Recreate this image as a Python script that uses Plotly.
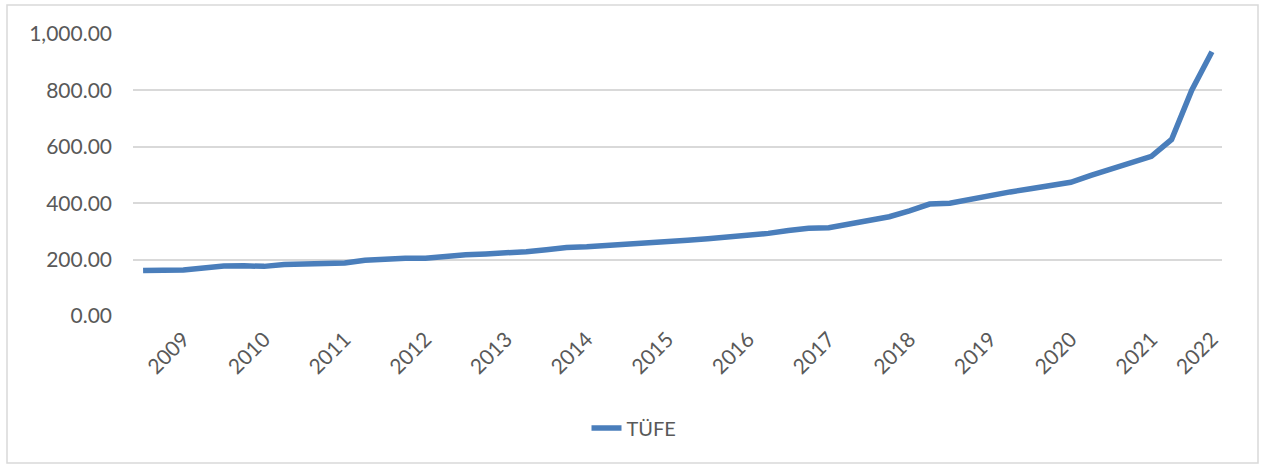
import plotly.graph_objects as go

# Quarterly TÜFE index values
tufe = [161, 162, 163, 170, 177, 178, 176, 183, 184, 188,
        188, 198, 203, 205, 205, 212, 217, 220, 222, 228,
        235, 243, 246, 250, 254, 260, 261, 269, 274, 279,
        285, 293, 303, 311, 313, 325, 337, 352, 373, 397,
        400, 414, 427, 440, 451, 462, 474, 499, 523, 546,
        566, 626, 801, 937]
period_index = list(range(len(tufe)))

year_labels = ["2009", "2010", "2011", "2012", "2013", "2014", "2015",
               "2016", "2017", "2018", "2019", "2020", "2021", "2022"]
year_label_index = [2, 6, 10, 14, 18, 22, 26, 30, 34, 38, 42, 46, 50, 53]

y_ticks = [0, 200, 400, 600, 800, 1000]

W, H = 1262, 465
L, R, T, B = 133, 40, 34, 149
pw, ph = W - L - R, H - T - B

def px_x(x):
    return (x - L) / pw

def px_y(y):
    return (H - B - y) / ph

fig = go.Figure()
fig.add_trace(go.Scatter(
    x=period_index, y=tufe, mode="lines", name="TÜFE",
    line=dict(color="#4A7EBB", width=5.5),
))

fig.update_layout(
    width=W, height=H,
    margin=dict(l=L, r=R, t=T, b=B),
    paper_bgcolor="white", plot_bgcolor="white",
    font=dict(family="Lato, Arial, sans-serif", size=21, color="#595959"),
    showlegend=True,
    legend=dict(orientation="h", x=px_x(634), xanchor="center",
                y=px_y(428), yanchor="middle",
                font=dict(size=20, color="#595959")),
    xaxis=dict(range=[-0.5, len(tufe) - 0.5], tickmode="array",
               tickvals=year_label_index, ticktext=year_labels,
               tickangle=-45, showgrid=False, zeroline=False,
               showline=False, ticks="", ticklabelstandoff=6),
    yaxis=dict(range=[0, 1000], tickmode="array", tickvals=y_ticks,
               tickformat=",.2f", showgrid=True, gridcolor="#D9D9D9",
               gridwidth=1.5, zeroline=False, showline=False, ticks="",
               ticklabelstandoff=20),
    shapes=[dict(type="rect", xref="paper", yref="paper",
                 x0=px_x(7), x1=px_x(1258), y0=px_y(463), y1=px_y(5),
                 line=dict(color="#D9D9D9", width=1.5), layer="below")],
)

fig.write_html(
    "out.html",
    config={"displayModeBar": False},
    post_script="document.body.style.margin='0px';"
                "document.body.style.overflow='hidden';",
)
